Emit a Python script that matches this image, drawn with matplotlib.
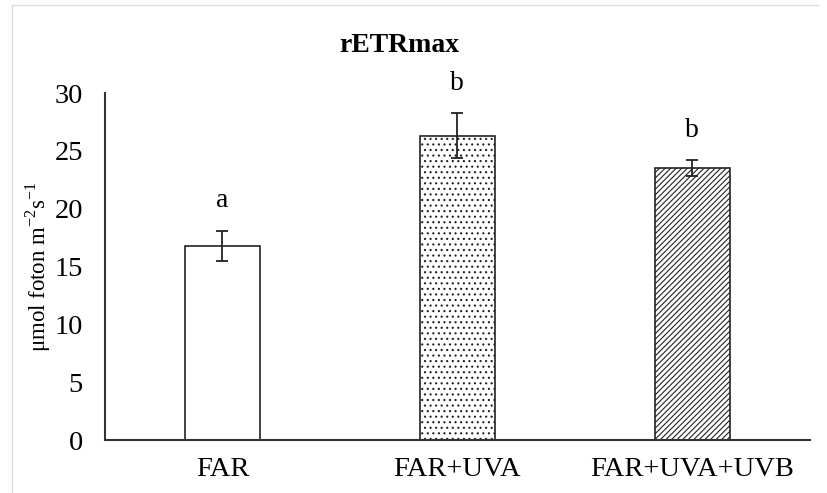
import matplotlib
matplotlib.use('Agg')
import matplotlib.pyplot as plt
from matplotlib.lines import Line2D

plt.rcParams['font.family'] = ['Liberation Serif', 'DejaVu Serif']
plt.rcParams['mathtext.fontset'] = 'custom'
plt.rcParams['mathtext.rm'] = 'Liberation Serif'
plt.rcParams['hatch.linewidth'] = 0.8

# data
treatments = ["FAR", "FAR+UVA", "FAR+UVA+UVB"]
rETRmax = [16.8, 26.3, 23.5]
sd = [1.3, 1.95, 0.7]
letters = ["a", "b", "b"]
hatches = ["", "...", "//////"]

fig = plt.figure(figsize=(8.27, 4.93), dpi=100)
ax = fig.add_axes([0.127, 0.1075, 0.852, 0.7035])

x = range(len(treatments))
bars = ax.bar(x, rETRmax, width=0.32, color="white", edgecolor="#222222", linewidth=1.2,
              yerr=sd, capsize=4, error_kw=dict(ecolor="#222222", elinewidth=1.3, capthick=1.3))
for b, h in zip(bars, hatches):
    b.set_hatch(h)

# letras de significancia
for i in x:
    ax.text(i, rETRmax[i] + sd[i] + 2.6, letters[i], ha="center", va="center", fontsize=20)

ax.set_xlim(-0.5, 2.5)
ax.set_ylim(0, 30)
ax.set_yticks(range(0, 31, 5))
ax.set_xticks(list(x))
ax.set_xticklabels(treatments, fontsize=20.5)
ax.tick_params(axis="y", labelsize=20.5, length=0, pad=16)
ax.tick_params(axis="x", length=0, pad=12)
for s in ["top", "right"]:
    ax.spines[s].set_visible(False)
for s in ["left", "bottom"]:
    ax.spines[s].set_color("#333333")
    ax.spines[s].set_linewidth(1.5)

ax.set_ylabel(r"μmol foton m$^{-2}$s$^{-1}$", fontsize=16.5, labelpad=1)
fig.text(399/827, 1 - 45/493, "rETRmax", fontsize=20, fontweight="bold", ha="center", va="center")

# marco gris claro
fig.add_artist(Line2D([12/827, 818/827], [1 - 5/493, 1 - 5/493], color="#dddddd", lw=1))
fig.add_artist(Line2D([12/827, 12/827], [0, 1 - 5/493], color="#dddddd", lw=1))

fig.savefig("out.png", dpi=100)
